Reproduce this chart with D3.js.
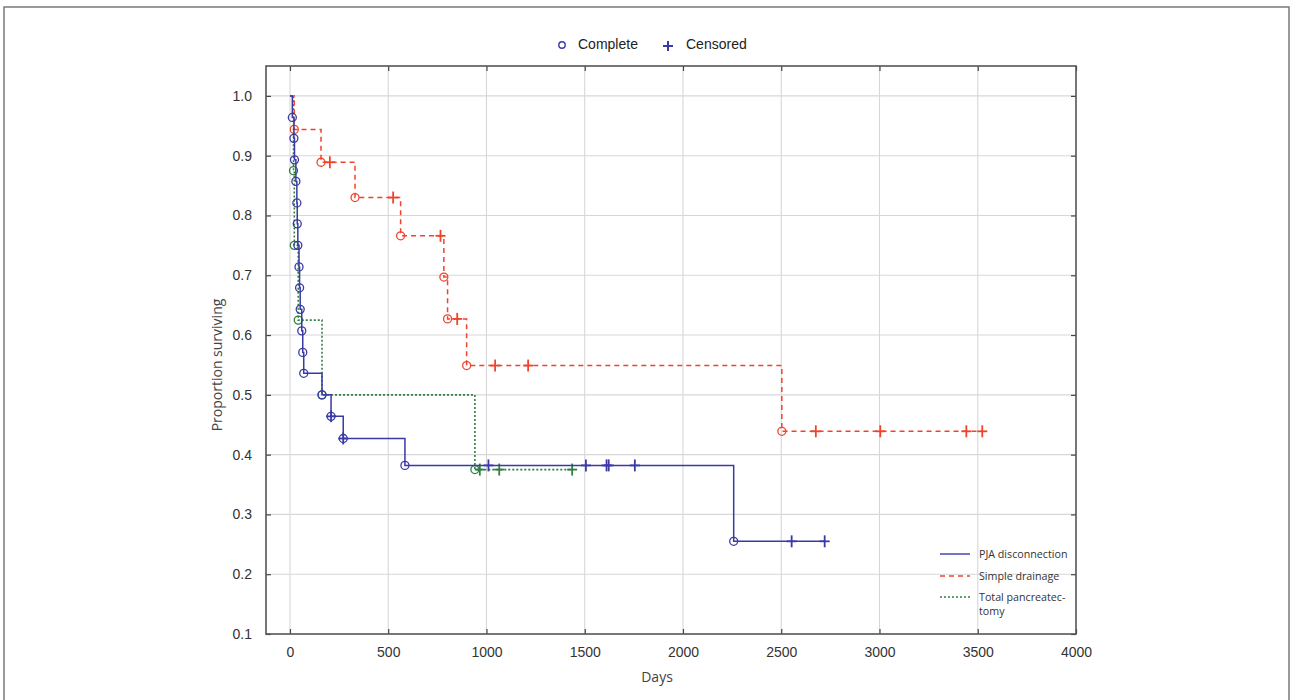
<!DOCTYPE html>
<html>
<head>
<meta charset="utf-8">
<script src="https://cdn.jsdelivr.net/npm/d3@7"></script>
<style>
  body { margin: 0; background: #fff; }
  svg { display: block; }
</style>
</head>
<body>
<div id="chart"></div>
<script>
// survival data
const pjaEventDays = [12, 20, 23, 30, 35, 37, 40, 46, 49, 52, 60, 65, 70, 163, 209, 271, 585, 2258];
const pjaEventSurv = [0.964, 0.929, 0.893, 0.857, 0.821, 0.786, 0.750, 0.714, 0.679, 0.643, 0.607, 0.571, 0.536, 0.500, 0.464, 0.427, 0.382, 0.255];
const pjaCensorDays = [209, 271, 1010, 1506, 1611, 1622, 1755, 2553, 2721];
const pjaCensorSurv = [0.464, 0.427, 0.382, 0.382, 0.382, 0.382, 0.382, 0.255, 0.255];

const drainEventDays = [22, 158, 331, 563, 783, 802, 899, 2503];
const drainEventSurv = [0.944, 0.889, 0.830, 0.766, 0.697, 0.627, 0.549, 0.439];
const drainCensorDays = [203, 525, 766, 851, 1044, 1212, 2676, 3004, 3442, 3523];
const drainCensorSurv = [0.889, 0.830, 0.766, 0.627, 0.549, 0.549, 0.439, 0.439, 0.439, 0.439];

const totalEventDays = [18, 22, 42, 163, 941];
const totalEventSurv = [0.875, 0.750, 0.625, 0.500, 0.375];
const totalCensorDays = [966, 1065, 1436];
const totalCensorSurv = [0.375, 0.375, 0.375];

const xTicks = [0, 500, 1000, 1500, 2000, 2500, 3000, 3500, 4000];
const yTicks = [0.1, 0.2, 0.3, 0.4, 0.5, 0.6, 0.7, 0.8, 0.9, 1.0];
const groupNames = ["PJA disconnection", "Simple drainage", "Total pancreatec-|tomy"];

const W = 1290, H = 700;
const svg = d3.select("#chart").append("svg")
    .attr("width", W).attr("height", H);

// outer frame of the figure
svg.append("rect")
    .attr("x", 4).attr("y", 7).attr("width", 1285).attr("height", 720)
    .attr("fill", "none").attr("stroke", "#7a7a7a").attr("stroke-width", 1.5);

const pLeft = 266, pRight = 1076, pTop = 66, pBottom = 634;

const x = d3.scaleLinear().domain([-122, 4000]).range([pLeft, pRight]);
const y = d3.scaleLinear().domain([0.1, 1.05]).range([pBottom, pTop]);

// grid
const grid = svg.append("g");
grid.selectAll(".gx").data(xTicks.filter(d => d < 4000)).join("line")
    .attr("x1", d => x(d)).attr("x2", d => x(d))
    .attr("y1", pTop).attr("y2", pBottom)
    .attr("stroke", "#d9d6d8").attr("stroke-width", 1.1);
grid.selectAll(".gy").data(yTicks.filter(d => d > 0.1)).join("line")
    .attr("x1", pLeft).attr("x2", pRight)
    .attr("y1", d => y(d)).attr("y2", d => y(d))
    .attr("stroke", "#d9d6d8").attr("stroke-width", 1.1);

// axes (ticks pointing inward)
const axisStyle = g => {
    g.select(".domain").remove();
    g.selectAll(".tick line").attr("stroke", "#444").attr("stroke-width", 1.2);
    g.selectAll(".tick text").attr("fill", "#333")
        .style("font-family", "Liberation Sans, Arial, sans-serif").style("font-size", "14px");
};
svg.append("g").attr("transform", `translate(0,${pBottom})`)
    .call(d3.axisBottom(x).tickValues(xTicks).tickSizeInner(-5).tickSizeOuter(0).tickPadding(13).tickFormat(d3.format("d")))
    .call(axisStyle);
svg.append("g").attr("transform", `translate(0,${pTop})`)
    .call(d3.axisTop(x).tickValues(xTicks).tickSizeInner(-5).tickSizeOuter(0).tickFormat(""))
    .call(axisStyle);
svg.append("g").attr("transform", `translate(${pLeft},0)`)
    .call(d3.axisLeft(y).tickValues(yTicks).tickSizeInner(-5).tickSizeOuter(0).tickPadding(14).tickFormat(d3.format(".1f")))
    .call(axisStyle);
svg.append("g").attr("transform", `translate(${pRight},0)`)
    .call(d3.axisRight(y).tickValues(yTicks).tickSizeInner(-5).tickSizeOuter(0).tickFormat(""))
    .call(axisStyle);

svg.append("rect")
    .attr("x", pLeft).attr("y", pTop).attr("width", pRight - pLeft).attr("height", pBottom - pTop)
    .attr("fill", "none").attr("stroke", "#555").attr("stroke-width", 1.6);

// axis titles
svg.append("text")
    .attr("x", 657).attr("y", 682).attr("text-anchor", "middle")
    .style("font-family", "Open Sans, sans-serif").style("font-size", "14px").attr("fill", "#444")
    .text("Days");
svg.append("text")
    .attr("transform", "translate(222,365) rotate(-90)").attr("text-anchor", "middle")
    .style("font-family", "Open Sans, sans-serif").style("font-size", "14px").attr("fill", "#444")
    .text("Proportion surviving");

const series = [
    { ev: pjaEventDays, es: pjaEventSurv, cd: pjaCensorDays, cs: pjaCensorSurv, color: "#3a3aa6", dash: null, w: 1.5 },
    { ev: drainEventDays, es: drainEventSurv, cd: drainCensorDays, cs: drainCensorSurv, color: "#f0432c", dash: "5,4", w: 1.5 },
    { ev: totalEventDays, es: totalEventSurv, cd: totalCensorDays, cs: totalCensorSurv, color: "#2f7f3f", dash: "2,2", w: 1.6 }
];

const stepLine = d3.line().x(d => x(d[0])).y(d => y(d[1])).curve(d3.curveStepAfter);

// draw in order green, red, blue so blue sits on top like the reference
[2, 1, 0].forEach(i => {
    const s = series[i];
    const pts = [[0, 1]];
    s.ev.forEach((d, j) => pts.push([d, s.es[j]]));
    const end = Math.max(d3.max(s.cd), d3.max(s.ev));
    pts.push([end, s.es[s.es.length - 1]]);
    const g = svg.append("g");
    g.append("path").attr("d", stepLine(pts))
        .attr("fill", "none").attr("stroke", s.color).attr("stroke-width", s.w)
        .attr("stroke-dasharray", s.dash);
    g.selectAll("circle").data(s.ev.map((d, j) => [d, s.es[j]])).join("circle")
        .attr("cx", d => x(d[0])).attr("cy", d => y(d[1])).attr("r", 4)
        .attr("fill", "none").attr("stroke", s.color).attr("stroke-width", 1.3);
    const cr = s.cd.map((d, j) => [d, s.cs[j]]);
    g.selectAll(".ch").data(cr).join("line")
        .attr("x1", d => x(d[0]) - 5).attr("x2", d => x(d[0]) + 5)
        .attr("y1", d => y(d[1])).attr("y2", d => y(d[1]))
        .attr("stroke", s.color).attr("stroke-width", 1.8);
    g.selectAll(".cv").data(cr).join("line")
        .attr("x1", d => x(d[0])).attr("x2", d => x(d[0]))
        .attr("y1", d => y(d[1]) - 6).attr("y2", d => y(d[1]) + 6)
        .attr("stroke", s.color).attr("stroke-width", 1.8);
});

// top legend
const topLeg = svg.append("g").style("font-family", "Liberation Sans, Arial, sans-serif").style("font-size", "14px");
topLeg.append("circle").attr("cx", 562).attr("cy", 45).attr("r", 3.2)
    .attr("fill", "none").attr("stroke", "#3a3aa6").attr("stroke-width", 1.4);
topLeg.append("text").attr("x", 578).attr("y", 49).attr("fill", "#222").text("Complete");
topLeg.append("line").attr("x1", 663).attr("x2", 673).attr("y1", 46).attr("y2", 46)
    .attr("stroke", "#3a3aa6").attr("stroke-width", 2);
topLeg.append("line").attr("x1", 668).attr("x2", 668).attr("y1", 41).attr("y2", 51)
    .attr("stroke", "#3a3aa6").attr("stroke-width", 2);
topLeg.append("text").attr("x", 686).attr("y", 49).attr("fill", "#222").text("Censored");

// group legend
const legY = [554, 576, 597];
const leg = svg.append("g").style("font-family", "Open Sans, sans-serif").style("font-size", "10.7px");
series.forEach((s, i) => {
    leg.append("line").attr("x1", 940).attr("x2", 970).attr("y1", legY[i]).attr("y2", legY[i])
        .attr("stroke", s.color).attr("stroke-width", 1.4).attr("stroke-dasharray", s.dash);
    const t = leg.append("text").attr("x", 979).attr("y", legY[i] + 4).attr("fill", "#333");
    groupNames[i].split("|").forEach((part, k) => {
        t.append("tspan").attr("x", 979).attr("dy", k === 0 ? 0 : 14).text(part);
    });
});
</script>
</body>
</html>
